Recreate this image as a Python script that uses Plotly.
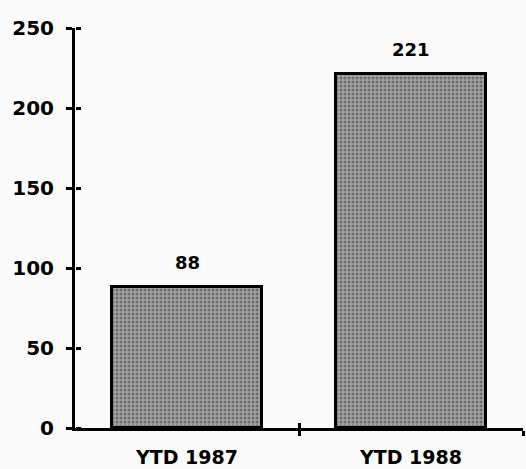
import plotly.graph_objects as go

categories = ["YTD 1987", "YTD 1988"]
values = [88, 221]
y_ticks = [0, 50, 100, 150, 200, 250]

positions = list(range(len(categories)))
boundaries = [p + 0.5 for p in positions]

label_font = dict(family="DejaVu Sans", size=20, color="black")
cat_font = dict(family="DejaVu Sans", size=19, color="black")
value_font = dict(family="DejaVu Sans", size=18, color="black")

fig = go.Figure()
fig.add_trace(go.Bar(
    x=positions, y=values, width=0.67,
    marker=dict(
        color="#9a9a9a",
        line=dict(color="black", width=3),
        pattern=dict(shape=".", fgcolor="#383838", bgcolor="#a2a2a2",
                     size=4, solidity=0.45, fillmode="overlay"),
    ),
    hoverinfo="skip", showlegend=False,
))

# invisible helper traces so the overlay axes render
for xa, ya in (("x2", "y"), ("x3", "y"), ("x", "y2")):
    fig.add_trace(go.Scatter(x=[positions[0]], y=[0], xaxis=xa, yaxis=ya,
                             mode="markers", marker=dict(opacity=0),
                             hoverinfo="skip", showlegend=False))

for p, v in zip(positions, values):
    fig.add_annotation(x=p, y=v, text=f"<b>{v}</b>", showarrow=False,
                       yanchor="bottom", yshift=12, font=value_font)

common = dict(showgrid=False, zeroline=False, fixedrange=True, automargin=False)

fig.update_layout(
    width=526, height=469,
    margin=dict(l=75, r=3, t=28, b=41),
    paper_bgcolor="#fbfbfb", plot_bgcolor="#fbfbfb",
    bargap=0,
    # main x axis: line plus outward tick marks at category boundaries
    xaxis=dict(
        range=[-0.5, 1.5], tickvals=boundaries, ticktext=["", ""],
        ticks="outside", ticklen=5, tickwidth=3, tickcolor="black",
        showline=True, linecolor="black", linewidth=3, **common,
    ),
    # category labels
    xaxis2=dict(
        overlaying="x", anchor="y", side="bottom", range=[-0.5, 1.5],
        tickvals=positions, ticktext=[f"<b>{c}</b>" for c in categories],
        tickfont=cat_font, ticks="", ticklabelstandoff=16, **common,
    ),
    # inward tick marks at category boundaries
    xaxis3=dict(
        overlaying="x", anchor="y", side="bottom", range=[-0.5, 1.5],
        tickvals=boundaries, showticklabels=False, ticks="inside",
        ticklen=5, tickwidth=3, tickcolor="black", **common,
    ),
    yaxis=dict(
        range=[0, 250], tickvals=y_ticks,
        ticktext=[f"<b>{t}</b>" for t in y_ticks],
        tickfont=label_font, ticks="outside", ticklen=6, tickwidth=3,
        tickcolor="black", ticklabelstandoff=8,
        showline=True, linecolor="black", linewidth=3, **common,
    ),
    # right-pointing tick marks on the left axis, so the ticks cross the line
    yaxis2=dict(
        overlaying="y", anchor="free", position=0, side="right",
        range=[0, 250], tickvals=y_ticks, showticklabels=False,
        ticks="outside", ticklen=5, tickwidth=3, tickcolor="black", **common,
    ),
)

fig.write_html("out.html")
